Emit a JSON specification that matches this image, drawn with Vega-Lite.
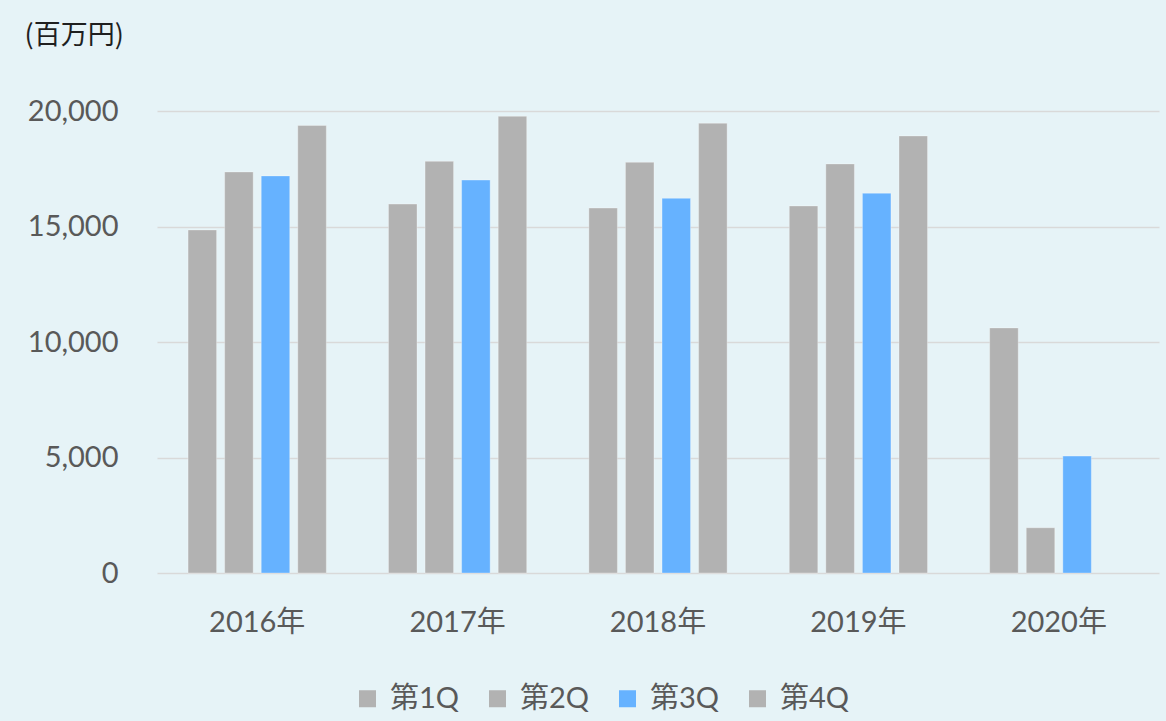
{
  "$schema": "https://vega.github.io/schema/vega-lite/v6.json",
  "autosize": {"type": "none"},
  "width": 1002,
  "height": 462,
  "padding": {"left": 157, "top": 111, "right": 7, "bottom": 148},
  "background": "#E6F3F7",
  "config": {"view": {"stroke": null}, "font": "Lato, Noto Sans CJK JP"},
  "data": {
    "values": [
      {"year": "2016年", "quarter": "第1Q", "value": 14850},
      {"year": "2016年", "quarter": "第2Q", "value": 17360},
      {"year": "2016年", "quarter": "第3Q", "value": 17190},
      {"year": "2016年", "quarter": "第4Q", "value": 19370},
      {"year": "2017年", "quarter": "第1Q", "value": 15970},
      {"year": "2017年", "quarter": "第2Q", "value": 17820},
      {"year": "2017年", "quarter": "第3Q", "value": 17010},
      {"year": "2017年", "quarter": "第4Q", "value": 19770},
      {"year": "2018年", "quarter": "第1Q", "value": 15800},
      {"year": "2018年", "quarter": "第2Q", "value": 17780},
      {"year": "2018年", "quarter": "第3Q", "value": 16220},
      {"year": "2018年", "quarter": "第4Q", "value": 19470},
      {"year": "2019年", "quarter": "第1Q", "value": 15890},
      {"year": "2019年", "quarter": "第2Q", "value": 17710},
      {"year": "2019年", "quarter": "第3Q", "value": 16440},
      {"year": "2019年", "quarter": "第4Q", "value": 18920},
      {"year": "2020年", "quarter": "第1Q", "value": 10610},
      {"year": "2020年", "quarter": "第2Q", "value": 1960},
      {"year": "2020年", "quarter": "第3Q", "value": 5060}
    ]
  },
  "mark": {"type": "bar", "stroke": "#ffffff", "strokeOpacity": 0.3, "strokeWidth": 1},
  "encoding": {
    "x": {
      "field": "year",
      "type": "nominal",
      "sort": null,
      "scale": {"paddingInner": 0.27, "paddingOuter": 0.135},
      "axis": {
        "title": null,
        "labelAngle": 0,
        "labelFontSize": 29,
        "labelColor": "#595959",
        "domain": false,
        "ticks": false,
        "labelBaseline": "alphabetic",
        "labelPadding": 58
      }
    },
    "xOffset": {
      "field": "quarter",
      "type": "nominal",
      "sort": null,
      "scale": {"paddingInner": 0.22, "paddingOuter": 0.11}
    },
    "y": {
      "field": "value",
      "type": "quantitative",
      "scale": {"domain": [0, 20000]},
      "axis": {
        "title": "(百万円)",
        "titleAngle": 0,
        "titleAlign": "left",
        "titleBaseline": "middle",
        "titleX": -133,
        "titleY": -76,
        "titleFontSize": 27,
        "titleFontWeight": "normal",
        "titleColor": "#1F1F1F",
        "titleFont": "Noto Sans CJK JP",
        "values": [0, 5000, 10000, 15000, 20000],
        "format": ",d",
        "labelFontSize": 29,
        "labelColor": "#595959",
        "labelPadding": 39,
        "domain": false,
        "ticks": false,
        "grid": true,
        "gridColor": "#D9D9D9",
        "gridWidth": 1.5
      }
    },
    "color": {
      "field": "quarter",
      "type": "nominal",
      "sort": null,
      "scale": {
        "domain": ["第1Q", "第2Q", "第3Q", "第4Q"],
        "range": ["#B2B2B2", "#B2B2B2", "#66B2FF", "#B2B2B2"]
      },
      "legend": {
        "orient": "none",
        "legendX": 196,
        "legendY": 573,
        "direction": "horizontal",
        "title": null,
        "symbolType": "square",
        "symbolSize": 289,
        "symbolStrokeWidth": 0,
        "symbolOpacity": 1,
        "labelFontSize": 29,
        "labelColor": "#595959",
        "labelOffset": 8,
        "columnPadding": 23
      }
    }
  }
}
